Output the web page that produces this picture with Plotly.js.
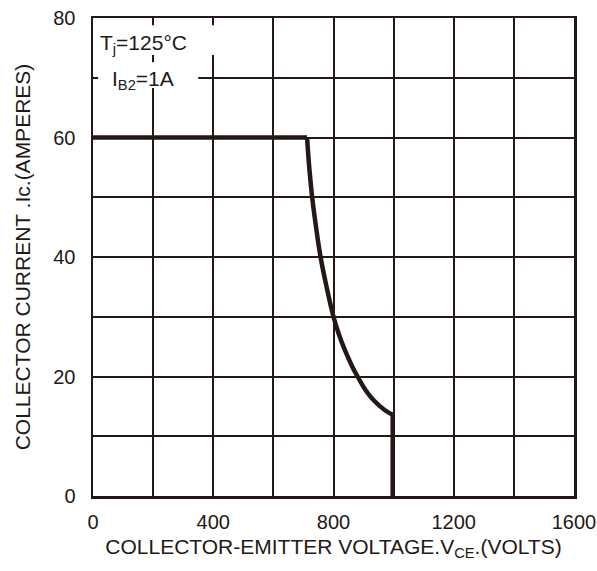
<!DOCTYPE html>
<html>
<head>
<meta charset="utf-8">
<script src="https://cdn.plot.ly/plotly-3.0.1.min.js"></script>
<style>html,body{margin:0;padding:0;background:#fff;}#chart{width:597px;height:571px;}</style>
</head>
<body>
<div id="chart"></div>
<script>
// Data (RBSOA curve), in three segments
const flatV  = [0, 712];
const flatI  = [60, 60];
const curveV = [712, 720, 729, 742, 757, 777, 800, 817, 838, 863, 880, 907, 932, 970, 997];
const curveI = [60, 54.6, 50, 45, 40, 35, 30, 27.2, 24.4, 21.6, 20, 17.7, 16.1, 14.4, 13.6];
const dropV  = [997, 997];
const dropI  = [13.6, 0];

const xTickVals = [0, 200, 400, 600, 800, 1000, 1200, 1400, 1600];
const xTickText = ['0', '', '400', '', '800', '', '1200', '', '1600'];
const yTickVals = [0, 10, 20, 30, 40, 50, 60, 70, 80];
const yTickText = ['0', '', '20', '', '40', '', '60', '', '80'];

const ink = '#231815';
const fam = 'Liberation Sans, Arial, sans-serif';
const tickFont = {family: fam, size: 20, color: ink};
const titleFont = {family: fam, size: 21, color: ink};

const lineStyle = {color: ink, width: 4.5};
const traces = [
  {x: flatV, y: flatI, type: 'scatter', mode: 'lines', line: lineStyle, cliponaxis: false},
  {x: curveV, y: curveI, type: 'scatter', mode: 'lines',
   line: Object.assign({shape: 'spline', smoothing: 1.2}, lineStyle), cliponaxis: false},
  {x: dropV, y: dropI, type: 'scatter', mode: 'lines', line: lineStyle, cliponaxis: false}
];

const layout = {
  width: 597, height: 571,
  margin: {l: 93, r: 23, t: 18, b: 75},
  paper_bgcolor: '#fff', plot_bgcolor: '#fff',
  showlegend: false,
  font: tickFont,
  xaxis: {
    range: [0, 1600], tickvals: xTickVals, ticktext: xTickText,
    showgrid: true, gridcolor: ink, gridwidth: 2,
    showline: true, mirror: true, linecolor: ink, linewidth: 2.5,
    zeroline: false, ticks: '', ticklabelstandoff: 6,
    tickfont: tickFont,
    title: {text: 'COLLECTOR-EMITTER VOLTAGE.V<sub>CE</sub>.(VOLTS)', font: titleFont, standoff: 8}
  },
  yaxis: {
    range: [0, 80], tickvals: yTickVals, ticktext: yTickText,
    showgrid: true, gridcolor: ink, gridwidth: 2,
    showline: true, mirror: true, linecolor: ink, linewidth: 2.5,
    zeroline: false, ticks: '', ticklabelstandoff: 11,
    tickfont: tickFont,
    title: {text: 'COLLECTOR CURRENT .Ic.(AMPERES)', font: titleFont, standoff: 17}
  },
  shapes: [
    {type: 'rect', xref: 'x', yref: 'y', x0: 10, x1: 417, y0: 73.8, y1: 78.8,
     fillcolor: '#fff', line: {width: 0}, layer: 'above'},
    {type: 'rect', xref: 'x', yref: 'y', x0: 17, x1: 350, y0: 68.3, y1: 72.6,
     fillcolor: '#fff', line: {width: 0}, layer: 'above'}
  ],
  annotations: [
    {xref: 'x', yref: 'y', x: 18, y: 75.6, xanchor: 'left', yanchor: 'middle',
     text: 'T<sub>j</sub>=125°C', showarrow: false, font: titleFont},
    {xref: 'x', yref: 'y', x: 55, y: 69.6, xanchor: 'left', yanchor: 'middle',
     text: 'I<sub>B2</sub>=1A', showarrow: false, font: titleFont}
  ]
};

Plotly.newPlot('chart', traces, layout, {staticPlot: true, displayModeBar: false});
</script>
</body>
</html>
